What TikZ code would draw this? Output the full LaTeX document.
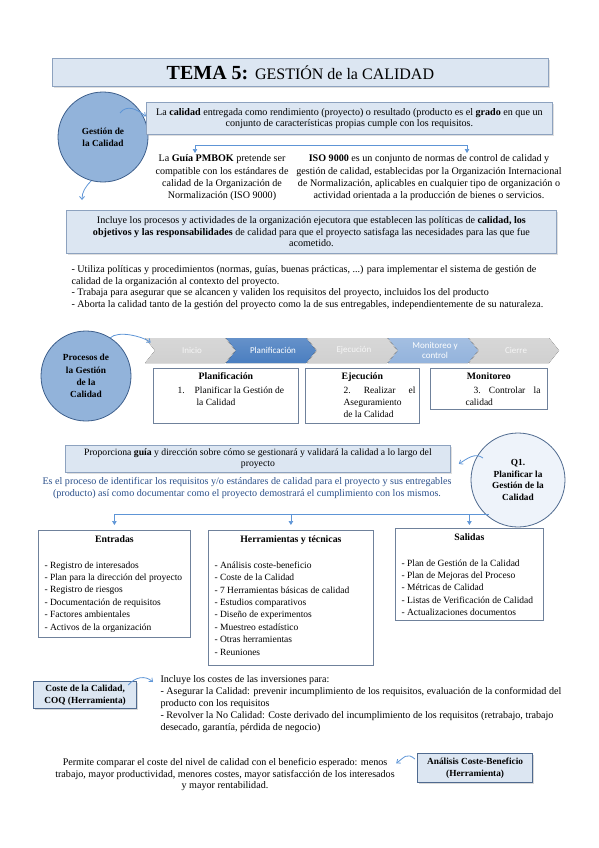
\documentclass[tikz,border=0pt]{standalone}
\usepackage{fontspec}
\setmainfont{Liberation Serif}
\newfontfamily\chevfont{Carlito}
\usetikzlibrary{positioning,arrows.meta,shadows,calc}

\definecolor{boxfill}{HTML}{DCE6F2}
\definecolor{boxline}{HTML}{8DA2BF}
\definecolor{darkline}{HTML}{4F6A8F}
\definecolor{listline}{HTML}{6F819B}
\definecolor{bubblefill}{HTML}{92B3DA}
\definecolor{bubbleline}{HTML}{3D5F8C}
\definecolor{qfill}{HTML}{EEF3FA}
\definecolor{arrowblue}{HTML}{5E95D6}
\definecolor{bluetext}{HTML}{2A4F8A}
\definecolor{chevgray}{HTML}{D0D0D0}
\definecolor{chevdark}{HTML}{4A7EC0}
\definecolor{chevlight}{HTML}{93B3DC}

\begin{document}
\begin{tikzpicture}[x=1pt, y=-1pt,
    font=\fontsize{10.1}{11.5}\selectfont,
    infobox/.style={draw=boxline, fill=boxfill, line width=0.8pt,
        drop shadow={shadow xshift=1.2pt, shadow yshift=-1.2pt, opacity=0.25}},
    toolbox/.style={draw=darkline, fill=boxfill, line width=1.2pt, align=center,
        font=\fontsize{9.3}{12}\selectfont\bfseries,
        drop shadow={shadow xshift=1.2pt, shadow yshift=-1.2pt, opacity=0.3}},
    listbox/.style={draw=listline, fill=white, line width=0.8pt,
        drop shadow={shadow xshift=1pt, shadow yshift=-1pt, opacity=0.2}},
    listtext/.style={anchor=north west, align=left, font=\fontsize{9.5}{12.4}\selectfont},
    bubble/.style={circle, draw=bubbleline, fill=bubblefill, line width=0.8pt,
        align=center, font=\fontsize{9.3}{12.3}\selectfont\bfseries},
    chevtext/.style={align=center, font=\chevfont\fontsize{9}{10}\selectfont},
    conn/.style={draw=arrowblue, line width=0.7pt, -{Triangle[length=4pt,width=4.5pt]}},
    curvearrow/.style={draw=arrowblue, line width=0.8pt, -{Straight Barb[length=3pt,width=5pt]}}
]
\useasboundingbox (0,0) rectangle (599,848);

% title
\node[infobox, minimum width=496, minimum height=28, anchor=north west] (title) at (52,58)
    {\fontsize{20}{22}\selectfont\textbf{TEMA 5:} \fontsize{16}{18}\selectfont GESTIÓN de la CALIDAD};

% gestion de la calidad
\node[bubble, minimum size=90] (gestion) at (103,137) {Gestión de\\la Calidad};
\node[infobox, minimum width=406, minimum height=32, anchor=north west, align=center] (defbox) at (146,102)
    {La \textbf{calidad} entregada como rendimiento (proyecto) o resultado (producto es el \textbf{grado} en que un\\
     conjunto de características propias cumple con los requisitos.};

\node[align=center, font=\fontsize{10.1}{12.3}\selectfont] (pmbok) at (222,178)
    {La \textbf{Guía PMBOK} pretende ser\\compatible con los estándares de\\calidad de la Organización de\\Normalización (ISO 9000)};
\node[align=center, font=\fontsize{10.1}{12.3}\selectfont] (iso) at (429,178)
    {\textbf{ISO 9000} es un conjunto de normas de control de calidad y\\
     gestión de calidad, establecidas por la Organización Internacional\\
     de Normalización, aplicables en cualquier tipo de organización o\\
     actividad orientada a la producción de bienes o servicios.};

\coordinate (pmtip) at (195,153);
\coordinate (isotip) at (467,153);
\draw[conn, {Triangle[length=4pt,width=4.5pt]}-{Triangle[length=4pt,width=4.5pt]}] (pmtip) -- ++(0,-8) -| (isotip);

\draw[curvearrow] ($(gestion.center)+(17,-24)$) .. controls +(7,-9) and +(-9,-7) .. ($(defbox.west)+(0,-2)$);

\node[infobox, minimum width=490, minimum height=43, anchor=north west, align=center] (incluye) at (66,210)
    {Incluye los procesos y actividades de la organización ejecutora que establecen las políticas de \textbf{calidad, los}\\
     \textbf{objetivos y las responsabilidades} de calidad para que el proyecto satisfaga las necesidades para las que fue\\
     acometido.};
\draw[curvearrow] (gestion.255) .. controls +(-6,6) and +(0,-8) .. ($(incluye.north west)+(16,-10)$);

\node[anchor=north west, align=left] (bullets) at (68,262)
    {- Utiliza políticas y procedimientos (normas, guías, buenas prácticas, ...) para implementar el sistema de gestión de\\
     calidad de la organización al contexto del proyecto.\\
     - Trabaja para asegurar que se alcancen y validen los requisitos del proyecto, incluidos los del producto\\
     - Aborta la calidad tanto de la gestión del proyecto como la de sus entregables, independientemente de su naturaleza.};

% procesos
\node[bubble, minimum size=90] (procesos) at (86,376) {Procesos de\\la Gestión\\de la\\Calidad};

\foreach \i/\name/\col/\tcol/\txt in {0/inicio/chevgray/white!93!gray/Inicio,
        1/planif/chevdark/white/Planificación,
        2/ejec/chevgray/white!93!gray/Ejecución,
        3/monit/chevlight/white/{Monitoreo y\\control},
        4/cierre/chevgray/white!93!gray/Cierre}{
    \pgfmathsetmacro{\xl}{145+81*\i}
    \fill[top color=\col!85!white, bottom color=\col] (\xl,338) -- ++(80,0) -- ++(10,12.5) -- ++(-10,12.5)
        -- ++(-80,0) -- ++(10,-12.5) -- cycle;
    \node[chevtext, text=\tcol] (\name) at (\xl+47,350.5) {\txt};
}
\draw[curvearrow] ($(procesos.center)+(24,-38)$) .. controls +(8,-8) and +(-8,-6) .. ($(inicio.west)+(-28,-8)$);

\node[listbox, minimum width=145, minimum height=55, anchor=north west] (planbox) at (153,368) {};
\node[listbox, minimum width=114, minimum height=55, anchor=north west] (ejecbox) at (305,368) {};
\node[listbox, minimum width=117, minimum height=41, anchor=north west] (monitbox) at (430,368) {};
\node[below=1pt of planbox.north, font=\fontsize{9.8}{11}\selectfont\bfseries] (plantitle) {Planificación};
\node[below=1pt of ejecbox.north, font=\fontsize{9.8}{11}\selectfont\bfseries] (ejectitle) {Ejecución};
\node[below=1pt of monitbox.north, font=\fontsize{9.8}{11}\selectfont\bfseries] (monittitle) {Monitoreo};
\node[listtext] (plantext) at (174,383)
    {1.\hspace{10pt}Planificar la Gestión de\\\hspace*{19pt}la Calidad};
\node[listtext] (ejectext) at (340,383)
    {\makebox[72pt][s]{2.\ Realizar el}\\Aseguramiento\\de la Calidad};
\node[listtext] (monittext) at (462,383)
    {\hspace*{8pt}\makebox[67pt][s]{3.\ Controlar la}\\calidad};

% Q1
\node[infobox, minimum width=385, minimum height=27, anchor=north west, align=center, font=\fontsize{9.7}{11}\selectfont] (guia) at (65,445)
    {Proporciona \textbf{guía} y dirección sobre cómo se gestionará y validará la calidad a lo largo del\\proyecto};
\node[bubble, minimum size=94, fill=qfill, draw=darkline, font=\fontsize{9.3}{11.5}\selectfont\bfseries] (q1) at (518,480)
    {Q1.\\Planificar la\\Gestión de la\\Calidad};
\draw[curvearrow] ($(q1.center)+(-35,-22)$) .. controls +(-8,-6) and +(8,-5) .. ($(guia.east)+(8,5)$);

\node[text=bluetext, align=center] (objetivo) at (247,488)
    {Es el proceso de identificar los requisitos y/o estándares de calidad para el proyecto y sus entregables\\
     (producto) así como documentar como el proyecto demostrará el cumplimiento con los mismos.};

\node[listbox, minimum width=152, minimum height=107, anchor=north west] (entradas) at (38,530) {};
\node[listbox, minimum width=165, minimum height=135, anchor=north west] (herr) at (208,530) {};
\node[listbox, minimum width=148, minimum height=92, anchor=north west] (salidas) at (395,528) {};

\coordinate (bus) at (489,514);
\draw[conn, shorten >=5pt] (bus) -| (entradas.north);
\draw[conn, shorten >=5pt] (herr.north |- bus) -- (herr.north);
\draw[conn, shorten >=3pt] (salidas.north |- bus) -- (salidas.north);

\node[below=2pt of entradas.north, font=\fontsize{9.8}{11}\selectfont\bfseries] (entradastitle) {Entradas};
\node[below=2pt of herr.north, font=\fontsize{9.8}{11}\selectfont\bfseries] (herrtitle) {Herramientas y técnicas};
\node[below=2pt of salidas.north, font=\fontsize{9.8}{11}\selectfont\bfseries] (salidastitle) {Salidas};
\node[listtext] (entradaslist) at (41,558)
    {- Registro de interesados\\- Plan para la dirección del proyecto\\- Registro de riesgos\\
     - Documentación de requisitos\\- Factores ambientales\\- Activos de la organización};
\node[listtext] (herrlist) at (211,558)
    {- Análisis coste-beneficio\\- Coste de la Calidad\\- 7 Herramientas básicas de calidad\\
     - Estudios comparativos\\- Diseño de experimentos\\- Muestreo estadístico\\- Otras herramientas\\- Reuniones};
\node[listtext] (salidaslist) at (398,556)
    {- Plan de Gestión de la Calidad\\- Plan de Mejoras del Proceso\\- Métricas de Calidad\\
     - Listas de Verificación de Calidad\\- Actualizaciones documentos};

% coste de la calidad
\node[toolbox, minimum width=103, minimum height=27, anchor=north west] (coste) at (33,681)
    {Coste de la Calidad,\\COQ (Herramienta)};
\node[anchor=north west, align=left, font=\fontsize{10.1}{12}\selectfont] (costetext) at (157,672)
    {Incluye los costes de las inversiones para:\\
     - Asegurar la Calidad: prevenir incumplimiento de los requisitos, evaluación de la conformidad del\\
     producto con los requisitos\\
     - Revolver la No Calidad: Coste derivado del incumplimiento de los requisitos (retrabajo, trabajo\\
     desecado, garantía, pérdida de negocio)};
\draw[curvearrow] ($(coste.north east)+(-9,4)$) .. controls +(7,-8) and +(-8,-7) .. ($(costetext.north west)+(-4,10)$);

% analisis coste-beneficio
\node[toolbox, minimum width=115, minimum height=29, anchor=north west] (analisis) at (417,753)
    {Análisis Coste-Beneficio\\(Herramienta)};
\node[align=center] (permite) at (225,775)
    {Permite comparar el coste del nivel de calidad con el beneficio esperado: menos\\
     trabajo, mayor productividad, menores costes, mayor satisfacción de los interesados\\
     y mayor rentabilidad.};
\draw[curvearrow] ($(analisis.west)+(-2,-9)$) .. controls +(-8,-7) and +(8,-6) .. ($(permite.north east)+(-2,8)$);
\end{tikzpicture}
\end{document}
